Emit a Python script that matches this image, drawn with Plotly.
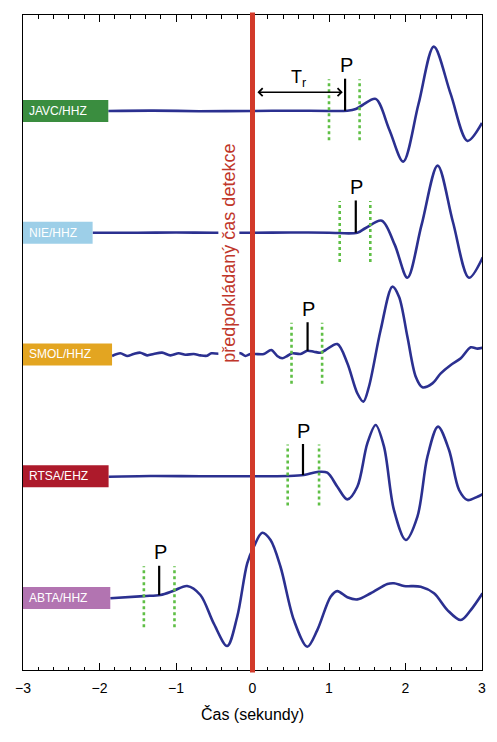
import numpy as np
import plotly.graph_objects as go

# ---------------- data ----------------
stations = ["JAVC/HHZ", "NIE/HHZ", "SMOL/HHZ", "RTSA/EHZ", "ABTA/HHZ"]
offsets = [4, 3, 2, 1, 0]
label_colors = ["#3a8d3f", "#9dcfe8", "#e3a521", "#ad1a2b", "#b274b1"]

javc_t = [-1.885, -1.3, -0.7, 0.0, 0.6, 1.0, 1.24, 1.35, 1.44, 1.61, 1.79, 1.97, 2.17, 2.37, 2.59, 2.81, 3.0]
javc_a = [0.0, 0.003, -0.002, 0.0, 0.002, 0.0, 0.002, 0.016, 0.049, 0.099, -0.156, -0.416, 0.057, 0.528, 0.140, -0.246, -0.099]

nie_t = [-2.09, -1.5, -1.0, -0.5, 0.0, 0.5, 1.0, 1.37, 1.48, 1.69, 1.86, 2.025, 2.21, 2.42, 2.62, 2.83, 3.01]
nie_a = [0.0, 0.0, 0.002, 0.0, 0.0, 0.002, 0.0, 0.0, 0.039, 0.099, -0.10, -0.370, 0.064, 0.551, 0.088, -0.370, -0.202]

smol_t = [-1.836, -1.728, -1.640, -1.554, -1.466, -1.378, -1.292, -1.182, -1.073, -0.965,
          -0.877, -0.768, -0.681, -0.593, -0.537, -0.353, -0.157, -0.092, -0.026, 0.039,
          0.148, 0.245, 0.323, 0.389, 0.455, 0.520, 0.628, 0.716, 0.802, 0.890,
          0.955, 1.109, 1.240, 1.370, 1.449, 1.522, 1.675, 1.828, 1.915, 2.025,
          2.134, 2.221, 2.352, 2.461, 2.592, 2.723, 2.853, 2.941, 3.010]
smol_a = [-0.012, 0.010, -0.012, 0.004, 0.015, -0.007, 0.004, 0.015, -0.007, 0.010,
          -0.002, 0.004, -0.007, -0.010, 0.010, 0.0, 0.010, -0.012, 0.004, 0.004,
          0.004, 0.037, -0.012, -0.031, -0.012, 0.010, 0.004, 0.031, 0.023, 0.015,
          0.037, 0.086, -0.072, -0.318, -0.387, -0.265, 0.201, 0.557, 0.475, 0.146,
          -0.182, -0.269, -0.237, -0.155, -0.086, -0.031, 0.059, 0.048, 0.056]

rtsa_t = [-1.881, -1.335, -0.681, -0.026, 0.454, 0.671, 0.847, 0.978, 1.109, 1.240, 1.370,
          1.501, 1.610, 1.719, 1.849, 2.003, 2.156, 2.287, 2.425, 2.569, 2.700, 2.810, 2.941, 3.010]
rtsa_a = [-0.004, 0.002, 0.0, 0.0, 0.002, 0.010, 0.035, 0.029, -0.086, -0.190, -0.086,
          0.270, 0.421, 0.243, -0.277, -0.523, -0.331, 0.162, 0.408, 0.216, -0.113, -0.195, -0.168, -0.146]

abta_t = [-1.859, -1.423, -1.204, -1.030, -0.855, -0.681, -0.507, -0.331, -0.200, -0.069, 0.017,
          0.127, 0.236, 0.366, 0.541, 0.716, 0.847, 1.021, 1.109, 1.240, 1.370, 1.545, 1.763,
          1.849, 1.980, 2.199, 2.373, 2.548, 2.723, 2.853, 3.007]
abta_a = [-0.002, 0.016, 0.025, 0.060, 0.099, 0.025, -0.208, -0.394, -0.154, 0.285, 0.421,
          0.536, 0.476, 0.257, -0.181, -0.400, -0.263, 0.011, 0.057, 0.006, -0.011, 0.039, 0.115,
          0.121, 0.099, 0.093, 0.039, -0.099, -0.181, -0.099, 0.039]

wave_t = [javc_t, nie_t, smol_t, rtsa_t, abta_t]
wave_a = [javc_a, nie_a, smol_a, rtsa_a, abta_a]

p_times = [1.21, 1.35, 0.72, 0.66, -1.22]
win_lo = [1.00, 1.14, 0.51, 0.46, -1.42]
win_hi = [1.40, 1.54, 0.91, 0.87, -1.02]

x_ticks = [-3, -2, -1, 0, 1, 2, 3]
detect_time = 0.0

# ---------------- style ----------------
WAVE = "#2b3090"
GREEN = "#5fbf45"
RED = "#d23a2a"
REG = "Liberation Sans, Arial"

fig = go.Figure()

for i, name in enumerate(stations):
    off = offsets[i]
    t = wave_t[i]
    y = [off + a for a in wave_a[i]]
    fig.add_trace(go.Scatter(x=t, y=y, mode="lines",
                             line=dict(color=WAVE, width=2.6, shape="spline", smoothing=0.9),
                             hoverinfo="skip", showlegend=False))
    # green dotted window
    fig.add_trace(go.Scatter(x=[win_lo[i], win_lo[i], None, win_hi[i], win_hi[i]],
                             y=[off - 0.24, off + 0.26, None, off - 0.24, off + 0.26],
                             mode="lines", line=dict(color=GREEN, width=2.6, dash="dot"),
                             hoverinfo="skip", showlegend=False))
    # P pick
    base = off + float(np.interp(p_times[i], t, wave_a[i]))
    fig.add_trace(go.Scatter(x=[p_times[i], p_times[i]], y=[base, off + 0.265],
                             mode="lines", line=dict(color="black", width=2.2),
                             hoverinfo="skip", showlegend=False))
    fig.add_annotation(x=p_times[i], y=off + 0.375, text="P", showarrow=False,
                       xshift=1, font=dict(family=REG, size=20, color="black"))
    # station label box
    fig.add_shape(type="rect", x0=-3, x1=t[0], y0=off - 0.09, y1=off + 0.09,
                  xref="x", yref="y", fillcolor=label_colors[i], line=dict(width=0), layer="above")
    fig.add_annotation(x=-3, y=off, text=name, showarrow=False, xanchor="left", xshift=4,
                       font=dict(family=REG, size=12, color="white"))

# detection time line
fig.add_shape(type="line", x0=detect_time, x1=detect_time, y0=-0.004, y1=1.004,
              xref="x", yref="paper", line=dict(color=RED, width=5), layer="above")
fig.add_annotation(x=-0.31, y=2.834, text="předpokládaný čas detekce", textangle=-90,
                   showarrow=False, bgcolor="white", borderpad=0,
                   font=dict(family=REG, size=18, color="#c0362a"))

# T_r arrow
fig.add_annotation(x=p_times[0] - 0.03, y=4.154, ax=detect_time + 0.045, ay=4.154,
                   xref="x", yref="y", axref="x", ayref="y", text="",
                   showarrow=True, arrowhead=4, startarrowhead=4, arrowside="end+start",
                   arrowsize=1.1, startarrowsize=1.1, arrowwidth=1.4, arrowcolor="black",
                   standoff=0, startstandoff=0)
fig.add_annotation(x=0.6, y=4.27, text="T<sub>r</sub>", showarrow=False,
                   font=dict(family=REG, size=18, color="black"))

# the page body adds an 8px margin: shrink figure and margins to compensate
fig.update_layout(
    width=489, height=734,
    margin=dict(l=15, r=15, t=7, b=72),
    paper_bgcolor="white", plot_bgcolor="white",
    font=dict(family=REG, color="black"),
    showlegend=False,
    xaxis=dict(range=[-3, 3], tickvals=x_ticks, ticks="inside", ticklen=7, tickwidth=1,
               tickcolor="black", showline=True, linecolor="black", linewidth=1,
               mirror="ticks", showgrid=False, zeroline=False,
               minor=dict(dtick=0.2, tick0=0, ticks="inside", ticklen=3.5, tickcolor="black",
                          showgrid=False),
               tickfont=dict(size=14, family=REG), ticklabelstandoff=5,
               title=dict(text="Čas (sekundy)", font=dict(size=16, family=REG), standoff=14)),
    yaxis=dict(range=[-0.591, 4.788], showline=True, linecolor="black", linewidth=1,
               mirror=True, ticks="", showticklabels=False, showgrid=False, zeroline=False),
)

fig.write_html("out.html")
